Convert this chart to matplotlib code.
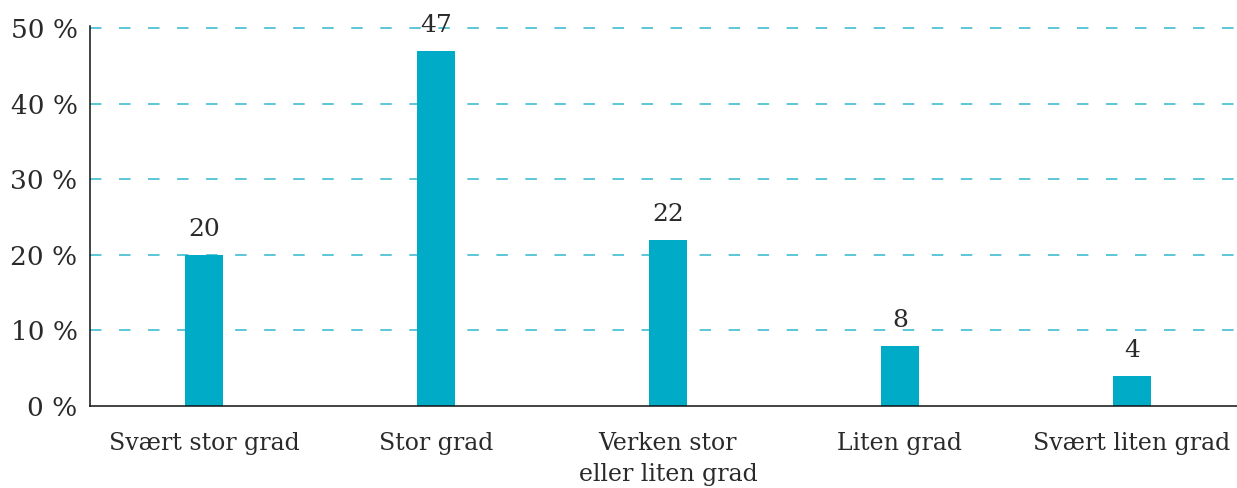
import matplotlib
matplotlib.use("Agg")
import matplotlib.pyplot as plt
import numpy as np

# Data
categories = ["Svært stor grad", "Stor grad", "Verken stor\neller liten grad",
              "Liten grad", "Svært liten grad"]
values = [20, 47, 22, 8, 4]
yticks = [0, 10, 20, 30, 40, 50]
ytick_labels = [f"{t} %" for t in yticks]

bar_color = "#00ABC7"
grid_color = "#2FB6CD"
text_color = "#2a2a2a"
font = "DejaVu Serif"

fig = plt.figure(figsize=(12.37, 4.88), dpi=100)
ax = fig.add_axes([0.0728, 0.168, 0.9272, 0.779])

x = np.arange(len(categories))
ax.bar(x, values, width=0.164, color=bar_color, zorder=3)

# verdier over stolpene
for xi, v in zip(x, values):
    ax.annotate(str(v), (xi, v), xytext=(0, 10), textcoords="offset points",
                ha="center", va="bottom", fontsize=18, family=font,
                color=text_color, annotation_clip=False)

ax.set_xlim(-0.491, 4.453)
ax.set_ylim(0, 50.3)
ax.set_yticks(yticks)
ax.set_yticklabels(ytick_labels, fontsize=19, family=font, color=text_color)
ax.set_xticks(x)
ax.set_xticklabels(categories, fontsize=17, family=font, color=text_color,
                   linespacing=1.4)
ax.tick_params(axis="both", length=0)
ax.tick_params(axis="x", pad=19)
ax.tick_params(axis="y", pad=9)

for yt in yticks[1:]:
    ax.axhline(yt, color=grid_color, lw=1.1, dashes=(7.5, 11.5), zorder=1)

for side in ["top", "right"]:
    ax.spines[side].set_visible(False)
for side in ["left", "bottom"]:
    ax.spines[side].set_linewidth(1.1)
    ax.spines[side].set_color("#111111")
    ax.spines[side].set_zorder(4)

fig.savefig("out.png", dpi=100)
